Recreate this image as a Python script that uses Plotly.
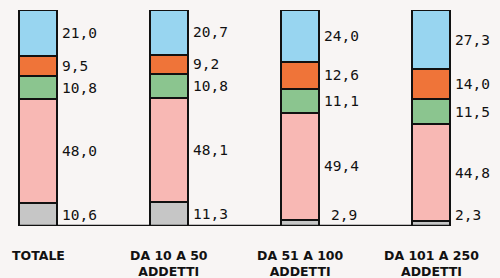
import plotly.graph_objects as go

categories = ["TOTALE", "DA 10 A 50<br>ADDETTI", "DA 51 A 100<br>ADDETTI", "DA 101 A 250<br>ADDETTI"]
gray_vals = [10.6, 11.3, 2.9, 2.3]
pink_vals = [48.0, 48.1, 49.4, 44.8]
green_vals = [10.8, 10.8, 11.1, 11.5]
orange_vals = [9.5, 9.2, 12.6, 14.0]
blue_vals = [21.0, 20.7, 24.0, 27.3]

series = [
    (gray_vals, "#c6c6c6"),
    (pink_vals, "#f8b8b4"),
    (green_vals, "#8bc58f"),
    (orange_vals, "#ef7439"),
    (blue_vals, "#98d5f0"),
]

BG = "#f8f5f4"
W, H = 500, 278
PX_PER_CAT = 131.0
BAR_W = 0.29
X0_PX = 38.0
num_font = dict(family="DejaVu Sans Mono", size=14.5, color="#111111")
cat_font = dict(family="DejaVu Sans", size=12.5, color="#111111", weight="bold")

xs = list(range(len(categories)))
fig = go.Figure()
for vals, col in series:
    fig.add_trace(go.Bar(
        x=xs, y=vals, width=BAR_W,
        marker=dict(color=col, line=dict(color="#111111", width=2)),
        hoverinfo="skip", showlegend=False,
    ))

# value labels
base = [0.0] * len(xs)
for vals, col in series:
    for i, v in enumerate(vals):
        mid = base[i] + v / 2
        ypos = max(mid, 5.3)
        fig.add_annotation(
            x=xs[i], y=ypos, text=f"{v:.1f}".replace(".", ","),
            xanchor="left", yanchor="middle", showarrow=False,
            xshift=BAR_W / 2 * PX_PER_CAT + 3 + (7 if v < 3 and i == 2 else 0),
            font=num_font,
        )
        base[i] += v

# category labels
for i, c in enumerate(categories):
    fig.add_annotation(
        x=xs[i], y=0, text=c, xanchor="center", yanchor="top",
        showarrow=False, yshift=-20, font=cat_font, align="center",
    )

# baseline
fig.add_shape(type="line", x0=xs[0] - BAR_W / 2, x1=xs[-1] + BAR_W / 2,
              y0=0, y1=0, line=dict(color="#111111", width=2.5), layer="above")

fig.update_layout(
    width=W, height=H, barmode="stack", bargap=0,
    paper_bgcolor=BG, plot_bgcolor=BG,
    margin=dict(l=0, r=0, t=10, b=52),
    xaxis=dict(range=[-X0_PX / PX_PER_CAT, (W - X0_PX) / PX_PER_CAT],
               showgrid=False, zeroline=False, showticklabels=False, showline=False),
    yaxis=dict(range=[0, 100], showgrid=False, zeroline=False,
               showticklabels=False, showline=False),
)
fig.write_html("out.html", config={"displayModeBar": False},
               post_script="document.body.style.margin='0';document.body.style.overflow='hidden';")
